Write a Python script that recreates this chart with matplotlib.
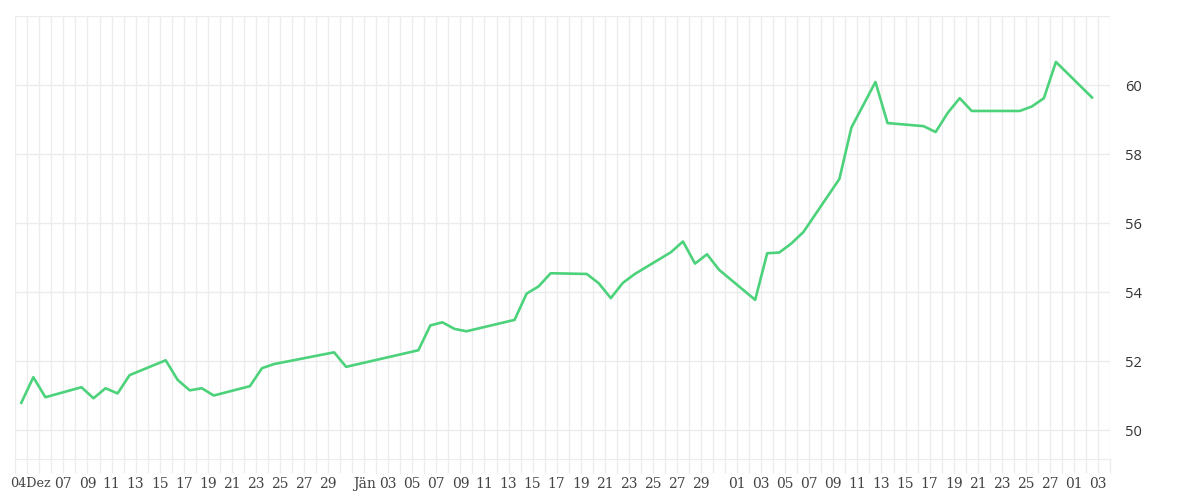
import matplotlib
matplotlib.use("Agg")
import matplotlib.pyplot as plt
import matplotlib.dates as mdates
from matplotlib.ticker import FixedLocator
from datetime import datetime, timedelta

# Handelstage (Dez 2025 - Mär 2026) und Schlusskurse
dates = [
    "2025-12-03", "2025-12-04", "2025-12-05", "2025-12-08", "2025-12-09",
    "2025-12-10", "2025-12-11", "2025-12-12", "2025-12-15", "2025-12-16",
    "2025-12-17", "2025-12-18", "2025-12-19", "2025-12-22", "2025-12-23",
    "2025-12-24", "2025-12-29", "2025-12-30", "2026-01-05", "2026-01-06",
    "2026-01-07", "2026-01-08", "2026-01-09", "2026-01-13", "2026-01-14",
    "2026-01-15", "2026-01-16", "2026-01-19", "2026-01-20", "2026-01-21",
    "2026-01-22", "2026-01-23", "2026-01-26", "2026-01-27", "2026-01-28",
    "2026-01-29", "2026-01-30", "2026-02-02", "2026-02-03", "2026-02-04",
    "2026-02-05", "2026-02-06", "2026-02-09", "2026-02-10", "2026-02-12",
    "2026-02-13", "2026-02-16", "2026-02-17", "2026-02-18", "2026-02-19",
    "2026-02-20", "2026-02-24", "2026-02-25", "2026-02-26", "2026-02-27",
    "2026-03-02",
]
values = [
    50.80, 51.54, 50.96, 51.25, 50.93,
    51.22, 51.07, 51.60, 52.03, 51.46,
    51.16, 51.22, 51.01, 51.28, 51.80,
    51.92, 52.26, 51.84, 52.32, 53.04,
    53.13, 52.94, 52.87, 53.20, 53.96,
    54.17, 54.55, 54.53, 54.26, 53.83,
    54.27, 54.53, 55.16, 55.47, 54.83,
    55.10, 54.65, 53.78, 55.13, 55.15,
    55.41, 55.74, 57.28, 58.77, 60.09,
    58.90, 58.81, 58.64, 59.19, 59.62,
    59.25, 59.25, 59.38, 59.62, 60.67,
    59.64,
]

# Beschriftungen der x-Achse
tick_days = (["2025-12-%02d" % d for d in range(7, 30, 2)]
             + ["2026-01-01"] + ["2026-01-%02d" % d for d in range(3, 30, 2)]
             + ["2026-02-01"] + ["2026-02-%02d" % d for d in range(3, 28, 2)]
             + ["2026-03-01", "2026-03-03"])
tick_labels = (["%02d" % d for d in range(7, 30, 2)]
               + ["Jän"] + ["%02d" % d for d in range(3, 30, 2)]
               + ["01"] + ["%02d" % d for d in range(3, 28, 2)]
               + ["01", "03"])
first_label = "04Dez"
y_ticks = [50, 52, 54, 56, 58, 60]

grid_col = "#ececec"
line_col = "#4cd27a"
xlab_font = dict(family=["DejaVu Serif"], color="#444444")

x = [datetime.strptime(d, "%Y-%m-%d") + timedelta(hours=12) for d in dates]

fig = plt.figure(figsize=(12, 5), dpi=100)
ax = fig.add_axes([0.01275, 0.0826, 0.9123, 0.8854])

ax.plot(x, values, color=line_col, lw=1.9, solid_joinstyle="round", zorder=3)

ax.set_xlim(datetime(2025, 12, 3), datetime(2026, 3, 4))
ax.set_ylim(49.18, 62.0)

# vertikale Linien an jedem Tag
ax.xaxis.set_minor_locator(mdates.DayLocator())
ax.xaxis.set_major_locator(FixedLocator(
    [mdates.date2num(datetime.strptime(d, "%Y-%m-%d")) for d in tick_days]))
ax.set_xticklabels(tick_labels, fontsize=10, **xlab_font)
ax.grid(True, which="both", axis="x", color=grid_col, lw=1)
ax.tick_params(axis="x", which="both", length=10, color=grid_col, width=1, pad=3)

# erste Beschriftung links am Rand
ax.text(datetime(2025, 12, 2, 13), -0.057, first_label, transform=ax.get_xaxis_transform(),
        ha="left", va="center", fontsize=9.2, **xlab_font)

ax.yaxis.tick_right()
ax.set_yticks(y_ticks + [62])
ax.set_yticklabels([str(v) for v in y_ticks] + [""], family=["Open Sans", "DejaVu Sans"],
                   fontsize=10.5, color="#333333")
ax.tick_params(axis="y", length=0, pad=11)
ax.grid(True, which="major", axis="y", color=grid_col, lw=1)

for s in ["left", "right", "top"]:
    ax.spines[s].set_visible(False)
ax.spines["bottom"].set_color(grid_col)
ax.set_axisbelow(True)

fig.savefig("out.png", dpi=100)
